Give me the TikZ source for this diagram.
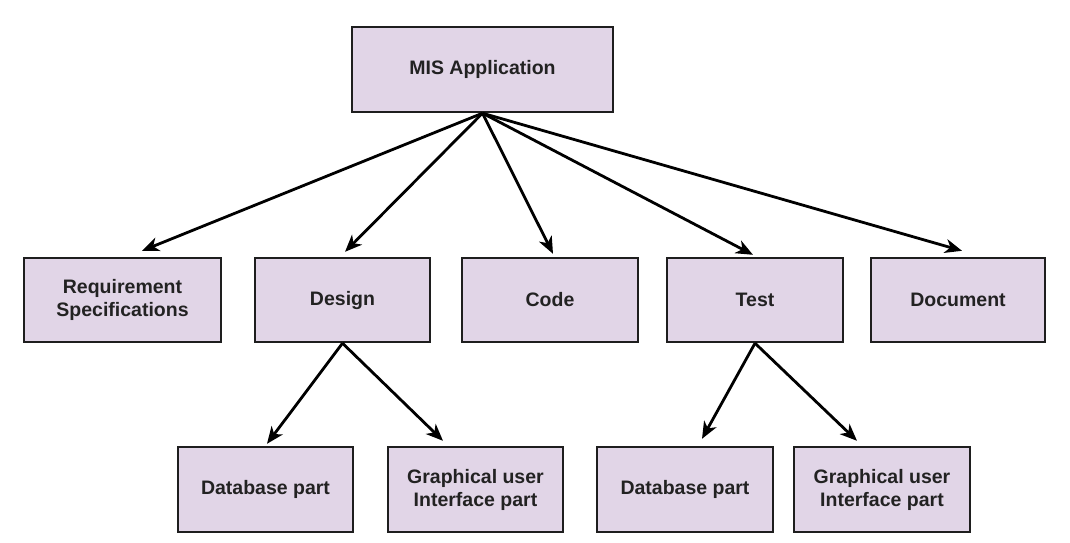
\documentclass[tikz,border=0pt]{standalone}
\usepackage{fontspec}
\setmainfont{Liberation Sans}
\usetikzlibrary{arrows.meta}
\definecolor{boxfill}{HTML}{E1D5E7}
\definecolor{boxline}{HTML}{1E1E1E}
\definecolor{txt}{HTML}{222222}
\begin{document}
\begin{tikzpicture}[x=1pt,y=-1pt,
  box/.style={draw=boxline,line width=2.4pt,fill=boxfill,minimum width=176pt,minimum height=84pt,
    align=center,inner sep=0pt,text=txt,font=\fontsize{19.5}{23}\selectfont\bfseries},
  conn/.style={line width=2.8pt,draw=black,-{Stealth[length=17pt,width=14pt,inset=5pt]}}]
\useasboundingbox (0,0) rectangle (1070,542);
\fill[white] (0,0) rectangle (1070,542);
\node[box,minimum width=261pt,minimum height=85pt] (mis) at (482.5,69.5) {MIS Application};
\node[box,minimum width=197pt] (req) at (122.5,300) {Requirement\\Specifications};
\node[box,minimum width=175pt] (design) at (342.5,300) {Design};
\node[box] (code) at (550,300) {Code};
\node[box] (test) at (755,300) {Test};
\node[box,minimum width=174pt] (doc) at (958,300) {Document};
\node[box,minimum width=175pt,minimum height=85pt] (db1) at (265.5,489.5) {Database part};
\node[box,minimum width=175pt,minimum height=85pt] (gui1) at (475.5,489.5) {Graphical user\\Interface part};
\node[box,minimum height=85pt] (db2) at (685,489.5) {Database part};
\node[box,minimum height=85pt] (gui2) at (882,489.5) {Graphical user\\Interface part};
\coordinate (treq) at ([xshift=19.5pt,yshift=6pt]req.north);
\coordinate (tdesign) at ([xshift=2.5pt,yshift=5pt]design.north);
\coordinate (tcode) at ([xshift=3pt,yshift=3pt]code.north);
\coordinate (ttest) at ([xshift=-2pt,yshift=2pt]test.north);
\coordinate (tdoc) at ([xshift=4pt,yshift=6pt]doc.north);
\coordinate (tdb1) at ([xshift=1.5pt,yshift=2pt]db1.north);
\coordinate (tgui1) at ([xshift=-32.5pt,yshift=5pt]gui1.north);
\coordinate (tdb2) at ([xshift=17pt,yshift=7pt]db2.north);
\coordinate (tgui2) at ([xshift=-25pt,yshift=5pt]gui2.north);
\foreach \t in {treq,tdesign,tcode,ttest,tdoc}
  \draw[conn] (mis.south) -- (\t);
\draw[conn] (design.south) -- (tdb1);
\draw[conn] (design.south) -- (tgui1);
\draw[conn] (test.south) -- (tdb2);
\draw[conn] (test.south) -- (tgui2);
\end{tikzpicture}
\end{document}
